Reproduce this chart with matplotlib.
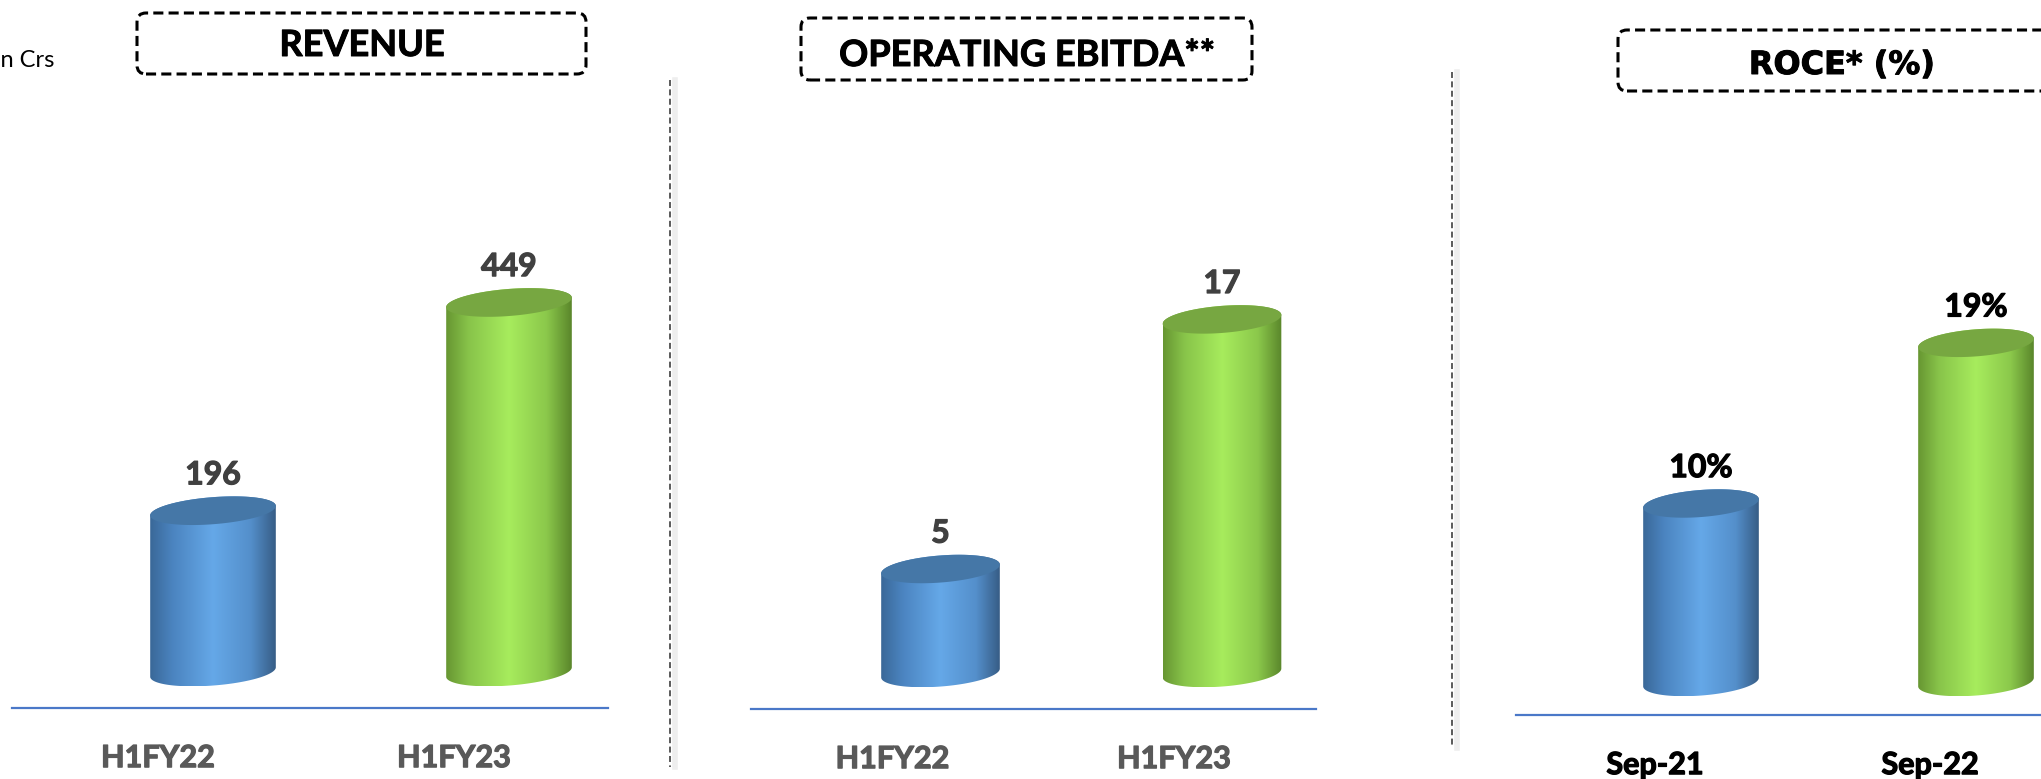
import numpy as np
import matplotlib.pyplot as plt
import matplotlib.patheffects as pe
from matplotlib.colors import LinearSegmentedColormap
from matplotlib.patches import Polygon, FancyBboxPatch
from matplotlib.lines import Line2D
from matplotlib.transforms import ScaledTranslation

W, H, DPI = 2041, 779, 100

# data
half_years = ['H1FY22', 'H1FY23']
roce_dates = ['Sep-21', 'Sep-22']
revenue = [196, 449]
op_ebitda = [5, 17]
roce = [10, 19]

FONT = 'Lato'

blue_cm = LinearSegmentedColormap.from_list(
    'cyl_blue', [(0, '#3a6898'), (0.18, '#4b84c0'), (0.5, '#65a8e8'),
                 (0.8, '#548fcb'), (1, '#375d86')])
green_cm = LinearSegmentedColormap.from_list(
    'cyl_green', [(0, '#679632'), (0.18, '#88c44a'), (0.5, '#a7ec5d'),
                  (0.8, '#8bc84b'), (1, '#5a862b')])
BAR_STYLE = [(blue_cm, '#4577a7'), (green_cm, '#77a741')]

fig = plt.figure(figsize=(W / DPI, H / DPI), dpi=DPI)


def heavy(col, w=0.9):
    # Lato bold is a bit lighter than the original face, thicken it slightly
    return [pe.withStroke(linewidth=w, foreground=col)]


def panel(left, right, base, zero, ppu, xa, xb):
    # axes from the top of the figure down to the floor line (bottom spine)
    ax = fig.add_axes([left / W, (H - base) / H, (right - left) / W, base / H])
    step = xb - xa
    ax.set_xlim(-(xa - left) / step, 1 + (right - xb) / step)
    ax.set_ylim(-(base - zero) / ppu, zero / ppu)
    ax.set_facecolor('none')
    for s in ['top', 'left', 'right']:
        ax.spines[s].set_visible(False)
    ax.spines['bottom'].set_color('#4a78c8')
    ax.spines['bottom'].set_linewidth(1.6)
    ax.set_yticks([])
    return ax


def cylinder(ax, x, val, width, cmap, top_col):
    p0 = ax.transData.transform((0, 0))
    p1 = ax.transData.transform((1, 1))
    sx, sy = p1 - p0
    a = width * sx / 2
    b = 13.5
    th = np.radians(4.5)
    t = np.linspace(0, 2 * np.pi, 241)
    ex = (a * np.cos(t) * np.cos(th) - b * np.sin(t) * np.sin(th)) / sx
    ey = (a * np.cos(t) * np.sin(th) + b * np.sin(t) * np.cos(th)) / sy
    lo = t >= np.pi
    up = t <= np.pi
    outline = np.concatenate([np.column_stack([x + ex[lo], ey[lo]]),
                              np.column_stack([x + ex[up], val + ey[up]])])
    body = Polygon(outline, closed=True, fc='none', ec='none')
    ax.add_patch(body)
    im = ax.imshow(np.linspace(0, 1, 256)[None, :], cmap=cmap, aspect='auto',
                   extent=[x + ex.min(), x + ex.max(), ey.min(), val + ey.max()],
                   interpolation='bilinear', zorder=2)
    im.set_clip_path(body)
    ax.add_patch(Polygon(np.column_stack([x + ex, val + ey]), closed=True,
                         fc=top_col, ec='none', zorder=3))


def draw_panel(ax, cats, vals, fmt, txt_col, tick_col, width, shift):
    for i, v in enumerate(vals):
        cmap, top_col = BAR_STYLE[i]
        cylinder(ax, i, v, width, cmap, top_col)
        ax.annotate(fmt.format(v), (i, v), xytext=(0, 19), textcoords='offset points',
                    ha='center', va='baseline', fontsize=23, fontweight='bold',
                    color=txt_col, family=FONT, zorder=4, path_effects=heavy(txt_col))
    ax.set_xticks(range(len(cats)))
    ax.set_xticklabels(cats, fontsize=22, fontweight='bold', color=tick_col, family=FONT)
    ax.tick_params(axis='x', length=0, pad=26)
    for lbl in ax.get_xticklabels():
        lbl.set_path_effects(heavy(tick_col))
        lbl.set_transform(lbl.get_transform() + ScaledTranslation(shift / DPI, 0, fig.dpi_scale_trans))


ax1 = panel(12, 608, 708, 672, 0.823, 213, 509)
draw_panel(ax1, half_years, revenue, '{}', '#404040', '#595959', 126 / 296, -55)

ax2 = panel(751, 1316, 709, 673, 20.8, 940.5, 1222)
draw_panel(ax2, half_years, op_ebitda, '{}', '#404040', '#595959', 119 / 281.5, -48)

ax3 = panel(1516, 2100, 715, 682, 17.85, 1701, 1976)
draw_panel(ax3, roce_dates, roce, '{}%', 'black', 'black', 116 / 275, -46)


def title_box(x0, x1, y0, y1, text, cx, base_y, family=FONT, size=26):
    fig.add_artist(FancyBboxPatch((x0 / DPI, (H - y1) / DPI), (x1 - x0) / DPI, (y1 - y0) / DPI,
                                  boxstyle='round,pad=0,rounding_size=0.09',
                                  transform=fig.dpi_scale_trans, fc='white', ec='black',
                                  lw=2.2, ls=(0, (3.3, 1.7)), zorder=5))
    fig.text(cx / W, (H - base_y) / H, text, ha='center', va='baseline', fontsize=size,
             fontweight='bold', family=family, color='black', zorder=6,
             path_effects=heavy('black', 0.7))


title_box(137, 586, 13, 74, 'REVENUE', 362, 56)
title_box(801, 1252, 18, 80, 'OPERATING EBITDA**', 1027, 66)
title_box(1618, 2075, 30, 91, 'ROCE* (%)', 1842, 74, family='DejaVu Sans', size=23)

fig.text(54 / W, (H - 67) / H, 'In Crs', ha='right', va='baseline', fontsize=17,
         family=FONT, color='black')

# dashed separators with a soft shadow
for x, y0, y1 in [(670, 80, 767), (1452, 72, 748)]:
    fig.add_artist(Line2D([(x + 5) / W] * 2, [(H - y0) / H, (H - y1) / H],
                          color='#eeeeee', lw=4))
    fig.add_artist(Line2D([x / W] * 2, [(H - y0) / H, (H - y1) / H],
                          color='#4d4d4d', lw=1.3, ls=(0, (3.3, 1.9))))

fig.savefig('out.png', dpi=DPI)
